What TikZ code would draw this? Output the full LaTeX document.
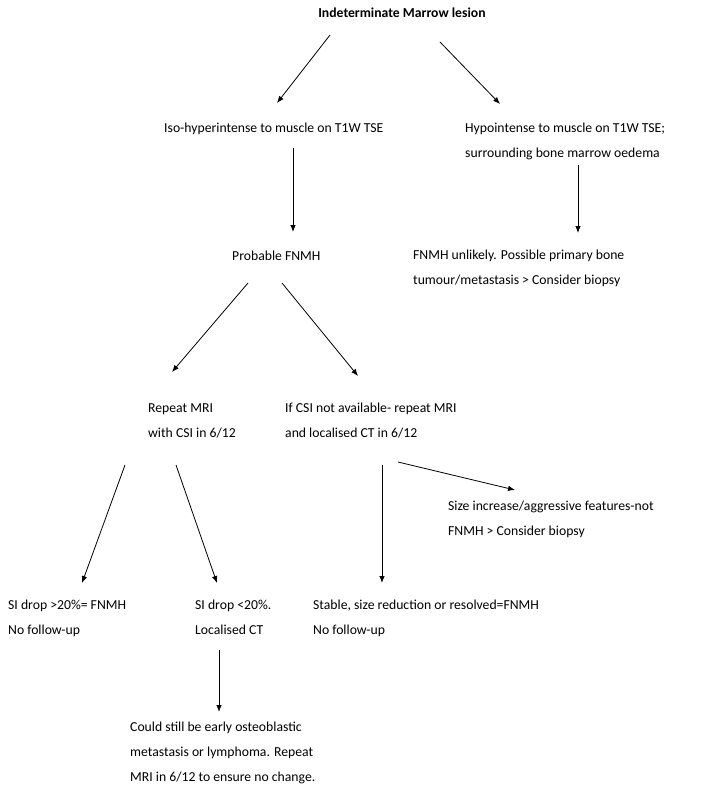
\documentclass[tikz,border=0pt]{standalone}
\usepackage{fontspec}
\setmainfont{Carlito}
\usetikzlibrary{arrows.meta,calc}
\begin{document}
\begin{tikzpicture}[x=1pt,y=-1pt,
    box/.style={anchor=base west, align=left, inner sep=0pt, font=\fontsize{13.7}{25}\selectfont},
    arr/.style={-{Latex[length=7pt,width=5.5pt]}, line width=0.8pt}]
    \useasboundingbox (0,0) rectangle (708,790);

    % base of each node is the baseline of its last line
    \node[anchor=base, inner sep=0pt, font=\fontsize{13.7}{25}\selectfont\bfseries] (title) at (402,17) {Indeterminate Marrow lesion};

    \node[box] (iso) at (164,132) {Iso-hyperintense to muscle on T1W TSE};
    \node[box] (hypo) at (465,157) {Hypointense to muscle on T1W TSE;\\surrounding bone marrow oedema};

    \node[box] (prob) at (232,260) {Probable FNMH};
    \node[box] (unlikely) at (413,284) {FNMH unlikely. Possible primary bone\\tumour/metastasis > Consider biopsy};

    \node[box] (repeat) at (148,437) {Repeat MRI\\with CSI in 6/12};
    \node[box] (nocsi) at (285,437) {If CSI not available- repeat MRI\\and localised CT in 6/12};
    \node[box] (increase) at (448,535) {Size increase/aggressive features-not\\FNMH > Consider biopsy};

    \node[box] (dropa) at (8,634) {SI drop >20\%= FNMH\\No follow-up};
    \node[box] (dropb) at (195,634) {SI drop <20\%.\\Localised CT};
    \node[box] (stable) at (313,634) {Stable, size reduction or resolved=FNMH\\No follow-up};

    \node[box] (could) at (130,781) {Could still be early osteoblastic\\metastasis or lymphoma. Repeat\\MRI in 6/12 to ensure no change.};

    % arrows
    \draw[arr] ($(title.base)+(-72,18)$) -- ($(iso.base west)+(113,-29)$);
    \draw[arr] ($(title.base)+(38,25)$) -- ($(hypo.base west)+(35,-53)$);
    \draw[arr] ($(iso.base west)+(129,16)$) -- ($(prob.base west)+(61,-28)$);
    \draw[arr] ($(hypo.base west)+(113,8)$) -- ($(unlikely.base west)+(165,-51)$);
    \draw[arr] ($(prob.base west)+(16,23)$) -- ($(repeat.base west)+(24,-65)$);
    \draw[arr] ($(prob.base west)+(50,23)$) -- ($(nocsi.base west)+(73,-61)$);
    \draw[arr] ($(repeat.base west)+(-23,28)$) -- ($(dropa.base west)+(74,-51)$);
    \draw[arr] ($(repeat.base west)+(28,28)$) -- ($(dropb.base west)+(22,-51)$);
    \draw[arr] ($(nocsi.base west)+(97,28)$) -- ($(stable.base west)+(69,-51)$);
    \draw[arr] ($(nocsi.base west)+(113,25)$) -- ($(increase.base west)+(67,-45)$);
    \draw[arr] ($(dropb.base west)+(24,16)$) -- ($(could.base west)+(89,-69)$);
\end{tikzpicture}
\end{document}
